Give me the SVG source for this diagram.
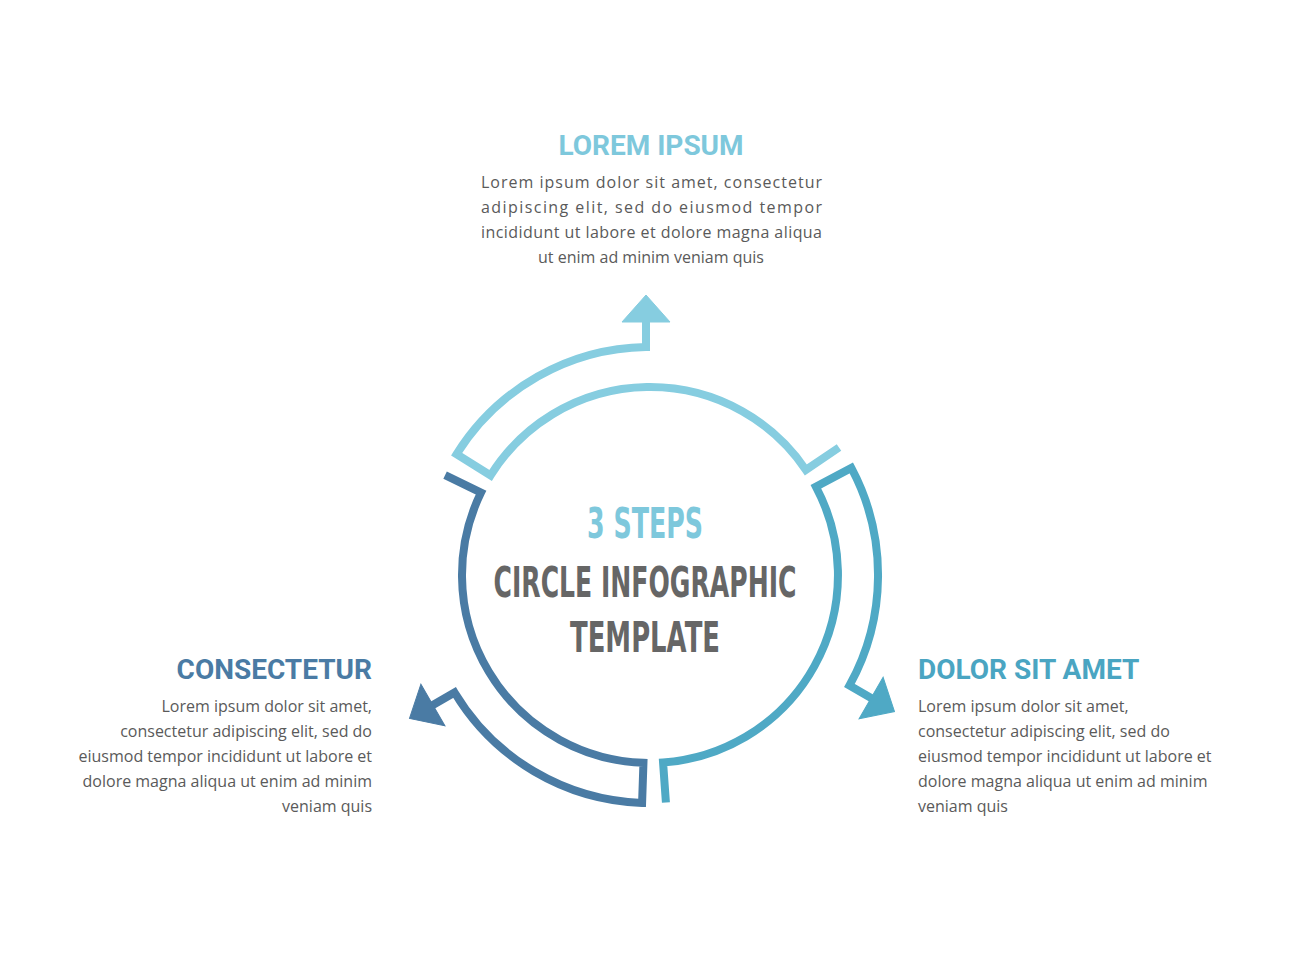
<svg xmlns="http://www.w3.org/2000/svg" width="1290" height="980" viewBox="0 0 1290 980">
<style>
.seg{fill:none;stroke-width:8;stroke-linejoin:miter}
.h{font-family:Roboto,"Liberation Sans",sans-serif;font-weight:bold;font-size:28px}
.b{font-family:"Open Sans","Liberation Sans",sans-serif;font-size:16px;fill:#5a5a5a}
.c{font-family:"DejaVu Sans","Liberation Sans",sans-serif;font-weight:bold;font-size:42px;text-anchor:middle}
</style>
<defs>
<g id="segshape">
<path class="seg" d="M189,-127.5 L155.9,-105.1 A188 188 0 0 0 -159.4,-99.6 L-193.4,-120.8 A228 228 0 0 1 -4,-228 L-4,-254"/>
<polygon points="-28,-253 20,-253 -4,-280"/>
</g>
</defs>
<rect width="1290" height="980" fill="#fff"/>
<g id="connectors">
<g id="seg-top" transform="translate(650,575)" stroke="#86cde0" fill="#86cde0"><use href="#segshape"/></g>
<g id="seg-right" transform="translate(650,575) rotate(120)" stroke="#4fa9c5" fill="#4fa9c5"><use href="#segshape"/></g>
<g id="seg-left" transform="translate(650,575) rotate(240)" stroke="#4a7ba4" fill="#4a7ba4"><use href="#segshape"/></g>
</g>
<g id="center">
<text class="c" x="645" y="538" fill="#7ec8dc" textLength="116" lengthAdjust="spacingAndGlyphs">3 STEPS</text>
<text class="c" x="645" y="597" fill="#666" textLength="303" lengthAdjust="spacingAndGlyphs">CIRCLE INFOGRAPHIC</text>
<text class="c" x="645" y="652" fill="#666" textLength="150" lengthAdjust="spacingAndGlyphs">TEMPLATE</text>
</g>
<g id="node-top">
<text class="h" x="651" y="155" text-anchor="middle" fill="#7ec8dc">LOREM IPSUM</text>
<text class="b" x="481" y="188" textLength="341" lengthAdjust="spacing">Lorem ipsum dolor sit amet, consectetur</text>
<text class="b" x="481" y="213" textLength="341" lengthAdjust="spacing">adipiscing elit, sed do eiusmod tempor</text>
<text class="b" x="481" y="238" textLength="341" lengthAdjust="spacing">incididunt ut labore et dolore magna aliqua</text>
<text class="b" x="651" y="263" text-anchor="middle">ut enim ad minim veniam quis</text>
</g>
<g id="node-left" text-anchor="end">
<text class="h" x="372" y="679" fill="#4a7ba4">CONSECTETUR</text>
<text class="b" x="372" y="712">Lorem ipsum dolor sit amet,</text>
<text class="b" x="372" y="737">consectetur adipiscing elit, sed do</text>
<text class="b" x="372" y="762">eiusmod tempor incididunt ut labore et</text>
<text class="b" x="372" y="787">dolore magna aliqua ut enim ad minim</text>
<text class="b" x="372" y="812">veniam quis</text>
</g>
<g id="node-right">
<text class="h" x="918" y="679" fill="#4aa5c2">DOLOR SIT AMET</text>
<text class="b" x="918" y="712">Lorem ipsum dolor sit amet,</text>
<text class="b" x="918" y="737">consectetur adipiscing elit, sed do</text>
<text class="b" x="918" y="762">eiusmod tempor incididunt ut labore et</text>
<text class="b" x="918" y="787">dolore magna aliqua ut enim ad minim</text>
<text class="b" x="918" y="812">veniam quis</text>
</g>
</svg>
